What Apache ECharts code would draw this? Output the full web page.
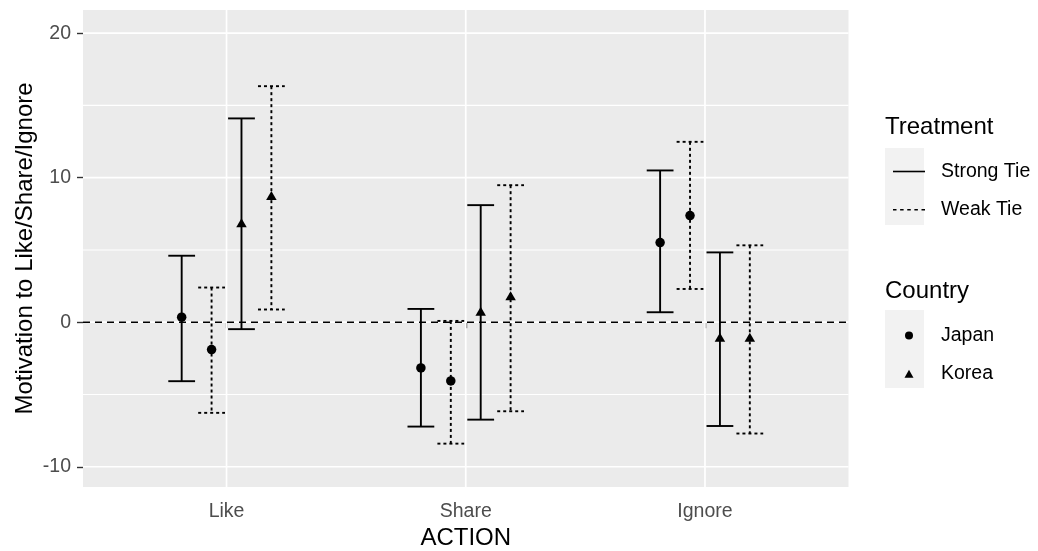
<!DOCTYPE html>
<html><head><meta charset="utf-8">
<script src="https://cdn.jsdelivr.net/npm/echarts@6/dist/echarts.min.js"></script>
<style>html,body{margin:0;padding:0;background:#fff}#c{width:1038px;height:551px}</style>
</head><body><div id="c"></div>
<script>
// ---- data ----
const actions = ['Like', 'Share', 'Ignore'];
const countries = ['Japan', 'Korea'];
const treatments = ['Strong Tie', 'Weak Tie'];
const yTickValues = [-10, 0, 10, 20];
const yMinorGrid = [-5, 5, 15];

const japanStrongMean = [0.35, -3.16, 5.51];
const japanStrongLow  = [-4.08, -7.22, 0.69];
const japanStrongHigh = [4.60, 0.92, 10.50];
const japanWeakMean   = [-1.89, -4.06, 7.38];
const japanWeakLow    = [-6.27, -8.40, 2.30];
const japanWeakHigh   = [2.40, 0.09, 12.48];
const koreaStrongMean = [6.77, 0.65, -1.15];
const koreaStrongLow  = [-0.48, -6.74, -7.18];
const koreaStrongHigh = [14.10, 8.10, 4.83];
const koreaWeakMean   = [8.66, 1.73, -1.15];
const koreaWeakLow    = [0.88, -6.16, -7.70];
const koreaWeakHigh   = [16.33, 9.48, 5.32];

// ---- assembly ----
const stats = {
  Japan: {
    'Strong Tie': { mean: japanStrongMean, low: japanStrongLow, high: japanStrongHigh },
    'Weak Tie':   { mean: japanWeakMean,   low: japanWeakLow,   high: japanWeakHigh }
  },
  Korea: {
    'Strong Tie': { mean: koreaStrongMean, low: koreaStrongLow, high: koreaStrongHigh },
    'Weak Tie':   { mean: koreaWeakMean,   low: koreaWeakLow,   high: koreaWeakHigh }
  }
};
const FONT = '"Liberation Sans", Arial, sans-serif';
const DODGE = 0.5, NGROUP = 4, CAP_WIDTH = 0.112;
function xPos(ai, ci, ti) {
  const g = ci * 2 + ti;
  return ai + 1 + (g + 0.5) * DODGE / NGROUP - DODGE / 2;
}

function errorData(tName) {
  const ti = treatments.indexOf(tName);
  const out = [];
  countries.forEach((c, ci) => {
    actions.forEach((a, ai) => {
      const s = stats[c][tName];
      out.push([xPos(ai, ci, ti), s.low[ai], s.high[ai]]);
    });
  });
  return out;
}
function pointData(cName) {
  const ci = countries.indexOf(cName);
  const out = [];
  treatments.forEach((t, ti) => {
    actions.forEach((a, ai) => {
      out.push([xPos(ai, ci, ti), stats[cName][t].mean[ai]]);
    });
  });
  return out;
}

function renderErrorBar(params, api) {
  const x = api.value(0), lo = api.value(1), hi = api.value(2);
  const top = api.coord([x, hi]), bot = api.coord([x, lo]);
  const hw = api.size([CAP_WIDTH, 0])[0] / 2;
  const dash = params.seriesName === 'Weak Tie' ? [3, 3] : null;
  const style = { stroke: '#000', lineWidth: 1.9, lineDash: dash, fill: null };
  return {
    type: 'group', children: [
      { type: 'line', shape: { x1: top[0], y1: top[1], x2: bot[0], y2: bot[1] }, style: style },
      { type: 'line', shape: { x1: top[0] - hw, y1: top[1], x2: top[0] + hw, y2: top[1] }, style: style },
      { type: 'line', shape: { x1: bot[0] - hw, y1: bot[1], x2: bot[0] + hw, y2: bot[1] }, style: style }
    ]
  };
}

function renderGrid(params, api) {
  const cs = params.coordSys;
  const children = [];
  yMinorGrid.forEach(v => {
    const y = api.coord([1, v])[1];
    children.push({ type: 'line', shape: { x1: cs.x, y1: y, x2: cs.x + cs.width, y2: y }, style: { stroke: '#fff', lineWidth: 1.1 } });
  });
  yTickValues.forEach(v => {
    const y = api.coord([1, v])[1];
    children.push({ type: 'line', shape: { x1: cs.x, y1: y, x2: cs.x + cs.width, y2: y }, style: { stroke: '#fff', lineWidth: 1.7 } });
  });
  actions.forEach((a, i) => {
    const x = api.coord([i + 1, 0])[0];
    children.push({ type: 'line', shape: { x1: x, y1: cs.y, x2: x, y2: cs.y + cs.height }, style: { stroke: '#fff', lineWidth: 1.7 } });
  });
  const y0 = api.coord([1, 0])[1];
  children.push({ type: 'line', shape: { x1: cs.x, y1: y0, x2: cs.x + cs.width, y2: y0 }, style: { stroke: '#000', lineWidth: 1.6, lineDash: [7, 5] } });
  return { type: 'group', children: children };
}

const chart = echarts.init(document.getElementById('c'), null, { renderer: 'canvas' });
const legendText = { fontFamily: FONT, fontSize: 19.5, color: '#000', lineHeight: 20 };
chart.setOption({
  animation: false,
  backgroundColor: '#fff',
  textStyle: { fontFamily: FONT },
  grid: { left: 83, right: 189.5, top: 10, bottom: 64, show: true, backgroundColor: '#EBEBEB', borderWidth: 0,
    containLabel: false, outerBoundsMode: 'none' },
  xAxis: {
    type: 'value', min: 0.4, max: 3.6,
    name: 'ACTION', nameLocation: 'middle', nameGap: 39, nameMoveOverlap: false,
    nameTextStyle: { fontFamily: FONT, fontSize: 24, color: '#000' },
    axisLine: { show: false },
    axisTick: { show: true, length: 6, lineStyle: { color: '#333', width: 1.4 }, customValues: actions.map((a, i) => i + 1) },
    axisLabel: { customValues: actions.map((a, i) => i + 1), formatter: v => actions[Math.round(v) - 1] || '',
      margin: 15, fontFamily: FONT, fontSize: 19.5, color: '#4D4D4D' },
    splitLine: { show: false }
  },
  yAxis: {
    type: 'value', min: -11.4, max: 21.6,
    name: 'Motivation to Like/Share/Ignore', nameLocation: 'middle', nameGap: 46, nameRotate: 90,
    nameMoveOverlap: false,
    nameTextStyle: { fontFamily: FONT, fontSize: 24, color: '#000' },
    axisLine: { show: false },
    axisTick: { show: true, length: 6, lineStyle: { color: '#333', width: 1.4 }, customValues: yTickValues },
    axisLabel: { customValues: yTickValues, margin: 12, fontFamily: FONT, fontSize: 19.5, color: '#4D4D4D' },
    splitLine: { show: false }
  },
  legend: [
    {
      data: [
        { name: 'Strong Tie', icon: 'path://M0 0H32V1.6H0Z' },
        { name: 'Weak Tie', icon: 'path://M0 0H3.5V1.4H0Z M7.125 0H10.625V1.4H7.125Z M14.25 0H17.75V1.4H14.25Z M21.375 0H24.875V1.4H21.375Z M28.5 0H32V1.4H28.5Z' }
      ],
      orient: 'vertical', left: 888, top: 156.5, itemWidth: 32, itemHeight: 1.6, itemGap: 18.2,
      selectedMode: false, itemStyle: { color: '#000', borderWidth: 0 },
      textStyle: Object.assign({}, legendText, { padding: [0, 0, 0, 11] })
    },
    {
      data: [{ name: 'Japan', icon: 'circle' }, { name: 'Korea', icon: 'triangle' }],
      orient: 'vertical', left: 899.5, top: 320.5, itemWidth: 9, itemHeight: 8, itemGap: 18.3,
      selectedMode: false, itemStyle: { color: '#000', borderWidth: 0 },
      textStyle: Object.assign({}, legendText, { padding: [0, 0, 0, 22.5] })
    }
  ],
  graphic: [
    { type: 'rect', left: 885, top: 148, shape: { width: 39, height: 77 }, style: { fill: '#F2F2F2' }, z: -1 },
    { type: 'rect', left: 885, top: 310, shape: { width: 39, height: 78 }, style: { fill: '#F2F2F2' }, z: -1 },
    { type: 'text', left: 885, top: 115, style: { text: 'Treatment', font: '24px ' + FONT, fill: '#000' } },
    { type: 'text', left: 885, top: 279, style: { text: 'Country', font: '24px ' + FONT, fill: '#000' } }
  ],
  series: [
    { type: 'custom', name: '_grid', data: [[1, 0]], renderItem: renderGrid, silent: true, z: 1, clip: false,
      encode: { x: 0, y: 1 } },
    { type: 'custom', name: 'Strong Tie', data: errorData('Strong Tie'), renderItem: renderErrorBar, z: 3,
      itemStyle: { color: '#000' }, encode: { x: 0, y: [1, 2] } },
    { type: 'custom', name: 'Weak Tie', data: errorData('Weak Tie'), renderItem: renderErrorBar, z: 3,
      itemStyle: { color: '#000' }, encode: { x: 0, y: [1, 2] } },
    { type: 'scatter', name: 'Japan', data: pointData('Japan'), symbol: 'circle', symbolSize: 9.5, z: 4,
      itemStyle: { color: '#000', opacity: 1 } },
    { type: 'scatter', name: 'Korea', data: pointData('Korea'), symbol: 'triangle', symbolSize: [10.5, 9],
      symbolOffset: [0, -1.5], z: 4, itemStyle: { color: '#000', opacity: 1 } }
  ]
});
</script>
</body></html>
